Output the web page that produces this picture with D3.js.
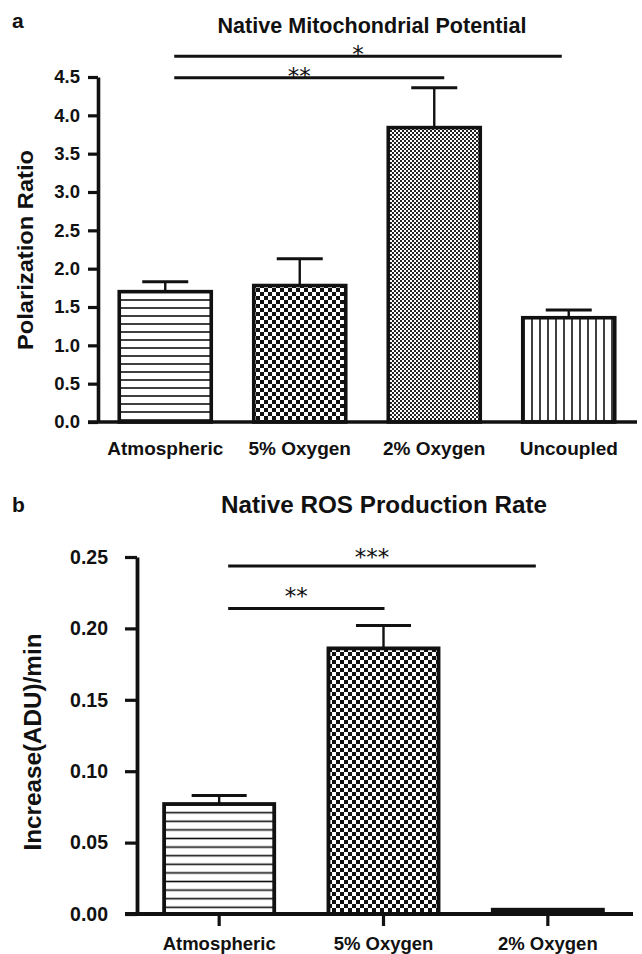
<!DOCTYPE html>
<html><head><meta charset="utf-8">
<script src="https://cdn.jsdelivr.net/npm/d3@7"></script>
<style>
body{margin:0;background:#fff}
svg{display:block}
text{font-family:"Liberation Sans",Arial,Helvetica,sans-serif;font-weight:bold;fill:#111}
</style>
</head><body><svg id="c" width="642" height="954"></svg>
<script>
// ---------- Panel a data ----------
const categoriesA = ["Atmospheric", "5% Oxygen", "2% Oxygen", "Uncoupled"];
const meansA = [1.70, 1.78, 3.84, 1.36];
const errA = [0.13, 0.35, 0.52, 0.10];
const ticksA = [0, 0.5, 1.0, 1.5, 2.0, 2.5, 3.0, 3.5, 4.0, 4.5];
const fillsA = ["hlines", "checker", "fine", "vlines"];
const sigA = [
  { from: 0, to: 3, level: 4.77, label: "*" },
  { from: 0, to: 2, level: 4.49, label: "**" }
];
const titleA = "Native Mitochondrial Potential";
const yLabelA = "Polarization Ratio";

// ---------- Panel b data ----------
const categoriesB = ["Atmospheric", "5% Oxygen", "2% Oxygen"];
const meansB = [0.077, 0.186, 0.003];
const errB = [0.006, 0.016, 0];
const ticksB = [0, 0.05, 0.10, 0.15, 0.20, 0.25];
const fillsB = ["hlines2", "checker", "solid"];
const sigB = [
  { from: 0, to: 2, level: 0.2437, label: "***" },
  { from: 0, to: 1, level: 0.214, label: "**" }
];
const titleB = "Native ROS Production Rate";
const yLabelB = "Increase(ADU)/min";

const svg = d3.select("#c");
const defs = svg.append("defs");

function pat(id, w, h, draw) {
  const p = defs.append("pattern").attr("id", id).attr("patternUnits", "userSpaceOnUse")
    .attr("width", w).attr("height", h);
  p.append("rect").attr("width", w).attr("height", h).attr("fill", "#fff");
  draw(p);
}
pat("hlines", 10, 8, p => p.append("rect").attr("x", 0).attr("y", 3.2).attr("width", 10).attr("height", 1.6).attr("fill", "#111"));
pat("hlines2", 10, 8.6, p => p.append("rect").attr("x", 0).attr("y", 3.5).attr("width", 10).attr("height", 1.6).attr("fill", "#111"));
pat("vlines", 8, 10, p => p.append("rect").attr("x", 3.2).attr("y", 0).attr("width", 1.6).attr("height", 10).attr("fill", "#111"));
pat("checker", 8, 8, p => {
  p.append("rect").attr("x", 0).attr("y", 0).attr("width", 4).attr("height", 4).attr("fill", "#111");
  p.append("rect").attr("x", 4).attr("y", 4).attr("width", 4).attr("height", 4).attr("fill", "#111");
});
pat("fine", 4, 4, p => {
  p.append("rect").attr("x", 0).attr("y", 0).attr("width", 2).attr("height", 2).attr("fill", "#222");
  p.append("rect").attr("x", 2).attr("y", 2).attr("width", 2).attr("height", 2).attr("fill", "#222");
});

function fillOf(k) { return k === "solid" ? "#111" : `url(#${k})`; }

function panel(cfg) {
  const g = svg.append("g");
  const x = d3.scaleBand().domain(cfg.cats).range(cfg.xRange)
    .paddingInner(cfg.padIn).paddingOuter(cfg.padOut);
  const y = d3.scaleLinear().domain([0, cfg.ymax]).range(cfg.yRange);
  const bw = x.bandwidth();

  g.append("text").attr("x", cfg.letterPos[0]).attr("y", cfg.letterPos[1])
    .style("font-size", cfg.letterSize + "px").text(cfg.letter);
  g.append("text").attr("x", cfg.titlePos[0]).attr("y", cfg.titlePos[1])
    .attr("text-anchor", "middle").style("font-size", cfg.titleSize + "px")
    .attr("textLength", cfg.titleLen).attr("lengthAdjust", "spacingAndGlyphs")
    .text(cfg.title);

  g.append("text")
    .attr("transform", `translate(${cfg.yLabPos[0]},${cfg.yLabPos[1]}) rotate(-90)`)
    .attr("text-anchor", "middle").style("font-size", cfg.yLabSize + "px")
    .attr("textLength", cfg.yLabLen).attr("lengthAdjust", "spacingAndGlyphs")
    .text(cfg.yLabel);

  g.selectAll("rect.bar").data(cfg.vals).join("rect").attr("class", "bar")
    .attr("x", (d, i) => x(cfg.cats[i]))
    .attr("y", d => y(d))
    .attr("width", bw)
    .attr("height", d => y(0) - y(d))
    .attr("fill", (d, i) => fillOf(cfg.fills[i]))
    .attr("stroke", "#111").attr("stroke-width", cfg.barStroke);

  cfg.vals.forEach((v, i) => {
    if (!cfg.errs[i]) return;
    const cx = x(cfg.cats[i]) + bw / 2;
    const top = y(v + cfg.errs[i]);
    g.append("line").attr("x1", cx).attr("x2", cx).attr("y1", y(v)).attr("y2", top)
      .attr("stroke", "#111").attr("stroke-width", 2.4);
    g.append("line").attr("x1", cx - bw / 4).attr("x2", cx + bw / 4).attr("y1", top).attr("y2", top)
      .attr("stroke", "#111").attr("stroke-width", 3);
  });

  const ya = g.append("g").attr("transform", `translate(${cfg.xRange[0]},0)`)
    .call(d3.axisLeft(y).tickValues(cfg.ticks).tickFormat(d3.format(cfg.fmt))
      .tickSize(cfg.yTickLen).tickSizeOuter(0).tickPadding(cfg.yTickPad));
  ya.select(".domain").attr("stroke", "#111").attr("stroke-width", cfg.axisStroke);
  ya.selectAll(".tick line").attr("stroke", "#111").attr("stroke-width", 3.2);
  ya.selectAll(".tick text").style("font-size", cfg.tickSize + "px").attr("fill", "#111");

  const xa = g.append("g").attr("transform", `translate(0,${y(0)})`)
    .call(d3.axisBottom(x).tickSize(cfg.xTickLen).tickSizeOuter(0).tickPadding(cfg.xTickPad));
  xa.select(".domain").remove();
  xa.selectAll(".tick line").attr("stroke", "#111").attr("stroke-width", 3.2);
  xa.selectAll(".tick text").style("font-size", cfg.xLabSize + "px").attr("fill", "#111");
  g.append("line").attr("x1", cfg.xAxisSpan[0]).attr("x2", cfg.xAxisSpan[1])
    .attr("y1", y(0)).attr("y2", y(0)).attr("stroke", "#111").attr("stroke-width", cfg.axisStroke);

  cfg.sig.forEach((s, k) => {
    const x1 = x(cfg.cats[s.from]) + bw / 2 + 9;
    const x2 = x(cfg.cats[s.to]) + bw / 2 + cfg.sigEnd[k];
    const yy = y(s.level);
    g.append("line").attr("x1", x1).attr("x2", x2).attr("y1", yy).attr("y2", yy)
      .attr("stroke", "#111").attr("stroke-width", 3);
    g.append("text").attr("x", (x1 + x2) / 2 - 10).attr("y", yy + cfg.starDy[k])
      .attr("text-anchor", "middle")
      .style("font-family", "'DejaVu Sans',sans-serif").style("font-weight", "normal")
      .style("font-size", "23px").style("letter-spacing", "0px").attr("fill", "#555")
      .text(s.label);
  });
}

panel({
  cats: categoriesA, vals: meansA, errs: errA, ticks: ticksA, fills: fillsA, sig: sigA,
  ymax: 4.5, xRange: [98, 636], padIn: 0.316, padOut: 0.158, yRange: [422, 77],
  fmt: ".1f", yTickLen: 10, yTickPad: 8, tickSize: 18.5,
  xTickLen: 0, xTickPad: 19.5, xLabSize: 19, xAxisSpan: [88, 637],
  axisStroke: 3.6, barStroke: 3.6, starDy: [6, 6], sigEnd: [-7, 10],
  letter: "a", letterPos: [12, 28], letterSize: 21,
  title: titleA, titlePos: [372, 33], titleSize: 22, titleLen: 309,
  yLabel: yLabelA, yLabPos: [33, 250], yLabSize: 22, yLabLen: 200
});

panel({
  cats: categoriesB, vals: meansB, errs: errB, ticks: ticksB, fills: fillsB, sig: sigB,
  ymax: 0.25, xRange: [137, 630], padIn: 0.33, padOut: 0.165, yRange: [914, 557],
  fmt: ".2f", yTickLen: 12, yTickPad: 17, tickSize: 19.5,
  xTickLen: 12, xTickPad: 11, xLabSize: 18.5, xAxisSpan: [125, 633],
  axisStroke: 3.8, barStroke: 3.8, starDy: [-1, -4], sigEnd: [-12, 1],
  letter: "b", letterPos: [12, 512], letterSize: 21,
  title: titleB, titlePos: [384, 513], titleSize: 24, titleLen: 326,
  yLabel: yLabelB, yLabPos: [41, 742], yLabSize: 23, yLabLen: 217
});
</script>
</body></html>
